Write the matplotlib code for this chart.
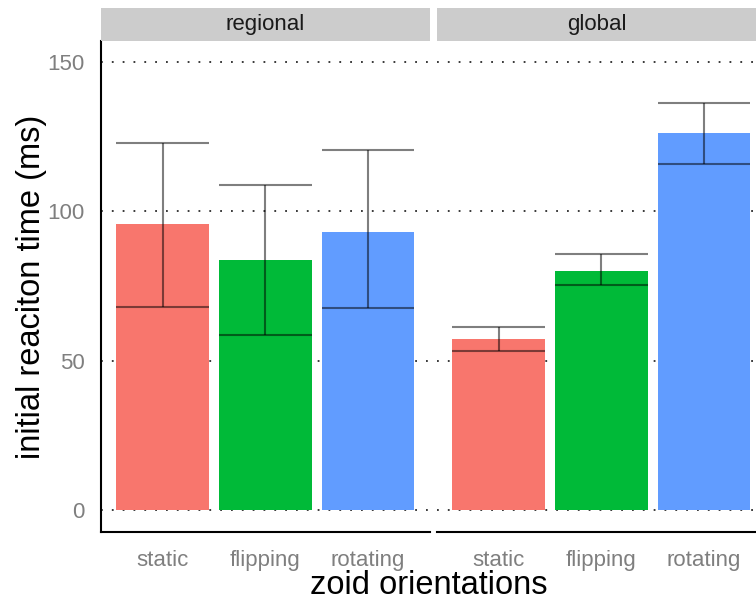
import numpy as np
import matplotlib
matplotlib.use("Agg")
import matplotlib.pyplot as plt

plt.rcParams['font.family'] = ['Liberation Sans', 'DejaVu Sans']

orientations = ['static', 'flipping', 'rotating']
panels = ['regional', 'global']
colors = ['#F8766D', '#00BA38', '#619CFF']

# mean initial reaction time (ms) and error bar limits
regional_mean = [95.7, 83.7, 93.1]
regional_lo = [68.0, 58.6, 67.6]
regional_hi = [122.7, 108.8, 120.5]
global_mean = [57.1, 80.0, 126.2]
global_lo = [53.2, 75.3, 115.7]
global_hi = [61.1, 85.7, 136.3]

means = [regional_mean, global_mean]
los = [regional_lo, global_lo]
his = [regional_hi, global_hi]

fig = plt.figure(figsize=(7.56, 6.04), dpi=100)
W, H = 756, 604
boxes = [(101, 430), (437, 756)]
top, bot = 41, 532
unit = 102.7

for k, (x0, x1) in enumerate(boxes):
    ax = fig.add_axes([x0 / W, 1 - bot / H, (x1 - x0) / W, (bot - top) / H])
    x = np.arange(1, 4)
    ax.set_xlim(0.4, 0.4 + (x1 - x0) / unit)
    ax.set_ylim(-7.4, 157)
    for g in [0, 50, 100, 150]:
        ax.axhline(g, color='#2a2a2a', lw=1.3, ls=(0, (1, 5)), zorder=0)
    ax.bar(x, means[k], width=0.9, color=colors, zorder=2)
    ax.vlines(x, los[k], his[k], color='black', alpha=0.5, lw=1.5, zorder=3)
    ax.hlines(los[k], x - 0.45, x + 0.45, color='black', alpha=0.5, lw=1.5, zorder=3)
    ax.hlines(his[k], x - 0.45, x + 0.45, color='black', alpha=0.5, lw=1.5, zorder=3)

    ax.set_xticks(x)
    ax.set_xticklabels(orientations)
    ax.set_yticks([0, 50, 100, 150])
    ax.tick_params(length=0, labelsize=16, labelcolor='#7F7F7F')
    ax.tick_params(axis='x', pad=13)
    ax.tick_params(axis='y', pad=12)
    for s in ['top', 'right']:
        ax.spines[s].set_visible(False)
    ax.spines['bottom'].set_linewidth(1.5)
    if k == 0:
        ax.spines['left'].set_linewidth(1.5)
        ax.set_ylabel('initial reaciton time (ms)', fontsize=23.5, labelpad=0)
    else:
        ax.spines['left'].set_visible(False)
        ax.set_yticklabels([])

    # facet strip
    sax = fig.add_axes([x0 / W, 1 - top / H, (x1 - x0) / W, 33 / H])
    sax.set_facecolor('#CCCCCC')
    sax.set_xticks([])
    sax.set_yticks([])
    for s in sax.spines.values():
        s.set_visible(False)
    sax.text(0.5, 0.5, panels[k], ha='center', va='center', fontsize=16,
             color='#1A1A1A', transform=sax.transAxes)

fig.text((101 + 756) / 2 / W, 1 - 586 / H, 'zoid orientations', ha='center',
         va='center', fontsize=23.5)

fig.savefig('out.png', dpi=100)
